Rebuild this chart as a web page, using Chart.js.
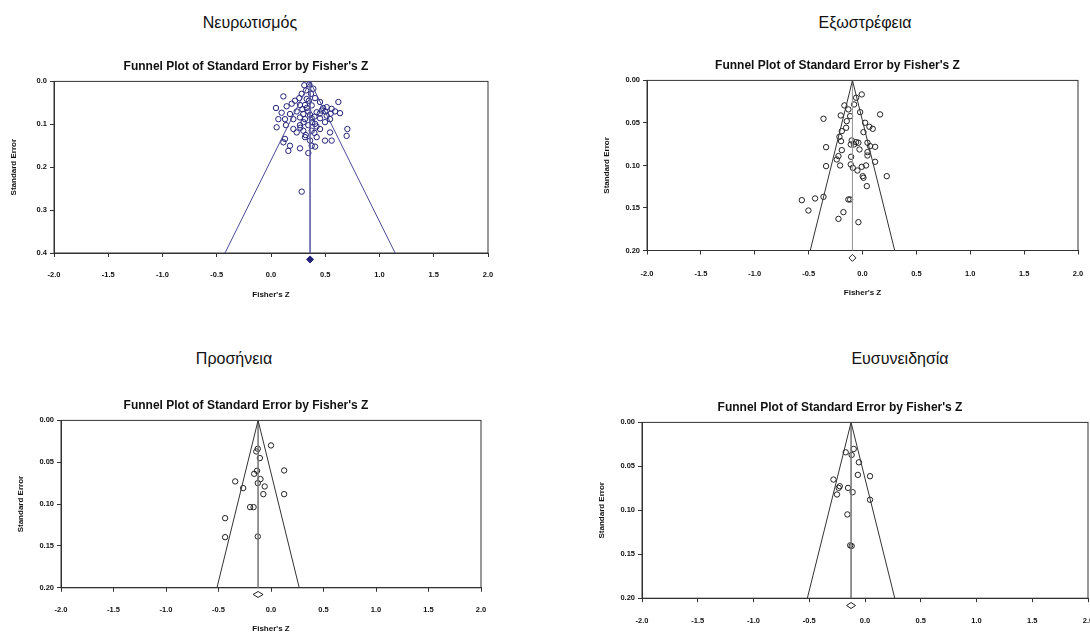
<!DOCTYPE html>
<html>
<head>
<meta charset="utf-8">
<script src="https://cdn.jsdelivr.net/npm/chart.js@4.4.1/dist/chart.umd.min.js"></script>
<style>
  html, body { margin: 0; padding: 0; background: #fff; width: 1090px; height: 632px; overflow: hidden; position: relative; }
  canvas { position: absolute; }
  .heading { position: absolute; font-family: 'Liberation Sans', Arial, sans-serif; font-size: 16px; color: #111; transform: translate(-50%, -50%); white-space: nowrap; }
</style>
</head>
<body>
<div class="heading" style="left:250px;top:23px">Νευρωτισμός</div>
<div class="heading" style="left:865px;top:23px">Εξωστρέφεια</div>
<div class="heading" style="left:234px;top:359px">Προσήνεια</div>
<div class="heading" style="left:900px;top:359px">Ευσυνειδησία</div>

<canvas id="neuro" width="534" height="247" style="left:4px;top:55px"></canvas>
<canvas id="extra" width="531" height="246" style="left:597px;top:54px"></canvas>
<canvas id="agree" width="520" height="242" style="left:11px;top:394px"></canvas>
<canvas id="consc" width="546" height="251" style="left:592px;top:396px"></canvas>

<script>
const chartTitle = "Funnel Plot of Standard Error by Fisher's Z";
const xTitle = "Fisher's Z";
const yTitle = 'Standard Error';

// Νευρωτισμός
const neuroZ = [0.307, 0.353, 0.390, 0.323, 0.283, 0.369, 0.114, 0.221, 0.261, 0.406, 0.329, 0.452, 0.191, 0.046, 0.144,
  0.267, 0.313, 0.375, 0.513, 0.559, 0.621, 0.636, 0.590, 0.467, 0.421, 0.344, 0.298, 0.237, 0.175, 0.098,
  0.068, 0.129, 0.206, 0.267, 0.313, 0.375, 0.452, 0.513, 0.544, 0.052, 0.138, 0.267, 0.344, 0.406, 0.498,
  0.298, 0.375, 0.237, 0.206, 0.704, 0.697, 0.452, 0.544, 0.129, 0.114, 0.160, 0.267, 0.344, 0.375, 0.406,
  0.498, 0.559, 0.175, 0.360, 0.313, 0.421, 0.283,
  0.33, 0.36, 0.40, 0.45, 0.48, 0.38, 0.42, 0.30, 0.35, 0.29, 0.50, 0.55, 0.27, 0.32, 0.40];
const neuroSE = [0.009, 0.007, 0.017, 0.021, 0.029, 0.029, 0.035, 0.045, 0.039, 0.039, 0.041, 0.048, 0.052, 0.062, 0.058,
  0.055, 0.055, 0.056, 0.060, 0.064, 0.048, 0.074, 0.070, 0.068, 0.072, 0.070, 0.076, 0.070, 0.076, 0.073,
  0.088, 0.088, 0.088, 0.084, 0.088, 0.086, 0.086, 0.080, 0.088, 0.107, 0.102, 0.102, 0.102, 0.099, 0.095,
  0.115, 0.115, 0.119, 0.111, 0.111, 0.127, 0.111, 0.119, 0.134, 0.142, 0.162, 0.156, 0.167, 0.150, 0.152,
  0.138, 0.138, 0.150, 0.138, 0.130, 0.130, 0.257,
  0.062, 0.078, 0.082, 0.075, 0.062, 0.095, 0.105, 0.095, 0.045, 0.065, 0.070, 0.075, 0.108, 0.125, 0.120];

// Εξωστρέφεια
const extraZ = [-0.007, -0.059, -0.078, -0.168, -0.131, -0.202, -0.115, -0.022, -0.362, 0.163, -0.146, -0.152, 0.024, 0.064,
  0.095, 0.009, -0.192, -0.214, -0.199, -0.100, -0.059, -0.078, -0.038, 0.046, 0.070, 0.117, 0.046, 0.046,
  -0.028, -0.109, -0.338, -0.192, -0.223, -0.239, -0.106, 0.117, -0.338, -0.208, -0.109, -0.090, -0.007, 0.033,
  -0.047, 0.002, 0.009, 0.225, 0.040, -0.440, -0.362, -0.563, -0.502, -0.131, -0.115, -0.177, -0.223, -0.038];
const extraSE = [0.0165, 0.0204, 0.0283, 0.0294, 0.0341, 0.0412, 0.0420, 0.0373, 0.0451, 0.0400, 0.0479, 0.0557, 0.0498, 0.0545,
  0.0569, 0.0608, 0.0596, 0.0663, 0.0714, 0.0706, 0.0726, 0.0753, 0.0733, 0.0733, 0.0773, 0.0781, 0.0843, 0.0883,
  0.0812, 0.0753, 0.0785, 0.0820, 0.0890, 0.0930, 0.0898, 0.0957, 0.1008, 0.1000, 0.0988, 0.1028, 0.1016, 0.1000,
  0.1059, 0.1126, 0.1145, 0.1126, 0.1243, 0.1388, 0.1369, 0.1408, 0.1530, 0.1400, 0.1400, 0.1549, 0.1628, 0.1667];

// Προσήνεια
const agreeZ = [0.000, -0.140, -0.126, -0.106, 0.125, -0.133, -0.160, -0.100, -0.341, -0.126, -0.265, -0.060, -0.073, 0.125,
  -0.199, -0.166, -0.437, -0.437, -0.126];
const agreeSE = [0.0299, 0.0371, 0.0339, 0.0450, 0.0598, 0.0602, 0.0638, 0.0701, 0.0729, 0.0749, 0.0809, 0.0789, 0.0881, 0.0881,
  0.1036, 0.1036, 0.1168, 0.1395, 0.1387];

// Ευσυνειδησία
const conscZ = [-0.101, -0.173, -0.120, -0.055, -0.064, 0.045, -0.283, -0.226, -0.236, -0.251, -0.152, -0.111, 0.045, -0.158,
  -0.133, -0.120];
const conscSE = [0.0302, 0.0340, 0.0370, 0.0454, 0.0597, 0.0612, 0.0650, 0.0726, 0.0745, 0.0820, 0.0745, 0.0794, 0.0880, 0.1047,
  0.1399, 0.1406];

// pooled estimate, axis max, summary diamond position
const pooledZ = [0.36, -0.093, -0.123, -0.125];
const seMax = [0.4, 0.2, 0.2, 0.2];
const seStep = [0.1, 0.05, 0.05, 0.05];
const diamondSE = [0.415, 0.2087, 0.208, 0.2083];

const FONT = "'Liberation Sans', Arial, sans-serif";

// box round the plot area
const frame = {
  id: 'frame',
  beforeDatasetsDraw(chart, args, opts) {
    const { ctx, chartArea: a } = chart;
    ctx.save();
    ctx.strokeStyle = opts.color;
    ctx.lineWidth = 1;
    ctx.strokeRect(a.left, a.top, a.right - a.left, a.bottom - a.top);
    ctx.restore();
  }
};

// summary diamond sits below the axis, outside the chart area, so points can't draw it
const summary = {
  id: 'summary',
  afterDatasetsDraw(chart, args, opts) {
    const { ctx, scales } = chart;
    const px = scales.x.getPixelForValue(opts.z);
    const py = scales.y.getPixelForValue(opts.se);
    ctx.save();
    ctx.beginPath();
    ctx.moveTo(px - opts.w, py);
    ctx.lineTo(px, py - opts.h);
    ctx.lineTo(px + opts.w, py);
    ctx.lineTo(px, py + opts.h);
    ctx.closePath();
    ctx.fillStyle = opts.fill;
    ctx.fill();
    ctx.strokeStyle = opts.color;
    ctx.lineWidth = 1;
    ctx.stroke();
    ctx.restore();
  }
};

function drawFunnel(id, i, z, se, look) {
  const m = pooledZ[i];
  const top = seMax[i];
  const dec = seStep[i] < 0.1 ? 2 : 1;
  const tickFont = { family: FONT, size: 7.5, weight: 'bold' };
  const axisFont = { family: FONT, size: 8, weight: 'bold' };

  new Chart(document.getElementById(id), {
    type: 'scatter',
    data: {
      datasets: [
        {
          data: [{ x: m - 1.96 * top, y: top }, { x: m, y: 0 }, { x: m + 1.96 * top, y: top }],
          showLine: true, borderColor: look.line, borderWidth: 1, pointRadius: 0, clip: false
        },
        {
          data: [{ x: m, y: 0 }, { x: m, y: top }],
          showLine: true, borderColor: look.mid, borderWidth: 0.8, pointRadius: 0
        },
        {
          data: z.map((v, k) => ({ x: v, y: se[k] })),
          pointStyle: 'circle', pointRadius: 2.7, borderWidth: 1,
          borderColor: look.dot, backgroundColor: 'rgba(0,0,0,0)', clip: false
        }
      ]
    },
    options: {
      responsive: false,
      animation: false,
      layout: { padding: { left: 0, right: 50, top: 0, bottom: 0 } },
      plugins: {
        legend: { display: false },
        tooltip: { enabled: false },
        title: {
          display: true, text: chartTitle, color: '#111',
          font: { family: FONT, size: 12, weight: 'bold' },
          padding: { top: 4, bottom: look.titleGap }
        },
        frame: { color: '#333' },
        summary: { z: m, se: diamondSE[i], w: look.dw, h: look.dh, fill: look.diamondFill, color: look.dot }
      },
      scales: {
        x: {
          type: 'linear', min: -2, max: 2,
          ticks: { stepSize: 0.5, callback: v => v.toFixed(1), font: tickFont, color: '#111', padding: look.tickPad, maxRotation: 0, autoSkip: false },
          grid: { drawOnChartArea: false, drawTicks: true, tickLength: 4, color: '#333' },
          border: { display: true, color: '#333' },
          title: { display: true, text: xTitle, font: axisFont, color: '#111', padding: { top: 0, bottom: 2 } },
          afterFit: s => { s.height = look.xH; }
        },
        y: {
          type: 'linear', reverse: true, min: 0, max: top,
          ticks: { stepSize: seStep[i], callback: v => v.toFixed(dec), font: tickFont, color: '#111', padding: 3 },
          grid: { drawOnChartArea: false, drawTicks: true, tickLength: 4, color: '#333' },
          border: { display: true, color: '#333' },
          title: { display: true, text: yTitle, font: axisFont, color: '#111', padding: { top: 5, bottom: 0 } },
          afterFit: s => { s.width = 50; }
        }
      }
    },
    plugins: [frame, summary]
  });
}

drawFunnel('neuro', 0, neuroZ, neuroSE, { line: '#4a4a96', mid: '#5a5aa0', dot: '#23237a', dw: 3.5, dh: 3.5, diamondFill: '#23237a', titleGap: 8, tickPad: 13.8, xH: 49 });
drawFunnel('extra', 1, extraZ, extraSE, { line: '#333', mid: '#999', dot: '#222', dw: 3.5, dh: 3.5, diamondFill: '#fff', titleGap: 8, tickPad: 15, xH: 49.5 });
drawFunnel('agree', 2, agreeZ, agreeSE, { line: '#333', mid: '#777', dot: '#222', dw: 5, dh: 3, diamondFill: '#fff', titleGap: 8, tickPad: 13.2, xH: 48.2 });
drawFunnel('consc', 3, conscZ, conscSE, { line: '#333', mid: '#777', dot: '#222', dw: 4.5, dh: 3, diamondFill: '#fff', titleGap: 8, tickPad: 14.5, xH: 48.8 });
</script>
</body>
</html>
